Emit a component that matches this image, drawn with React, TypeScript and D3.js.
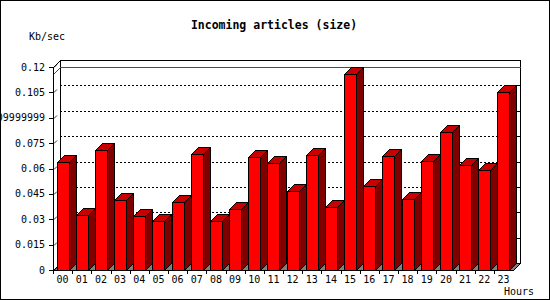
import React from 'react';
import * as d3 from 'd3';

const hours = ['00', '01', '02', '03', '04', '05', '06', '07', '08', '09', '10', '11',
  '12', '13', '14', '15', '16', '17', '18', '19', '20', '21', '22', '23'];
const kbPerSec = [0.0637, 0.0323, 0.0709, 0.0412, 0.0317, 0.029, 0.04, 0.0686, 0.029, 0.0359,
  0.0666, 0.0631, 0.0465, 0.0678, 0.0371, 0.1159, 0.0495, 0.0674, 0.0418, 0.0643, 0.0815,
  0.062, 0.059, 0.105];
const yTicks = [0, 0.015, 0.03, 0.045, 0.06, 0.075, 0.09, 0.105, 0.12];
const yTickLabels = ['0', '0.015', '0.03', '0.045', '0.06', '0.075', '0.09999999', '0.105', '0.12'];

const W = 550;
const H = 300;
const depth = 7; // 3d offset (right / up)
const mono = '"DejaVu Sans Mono", monospace';

const App: React.FC = () => {
  const left = 53;
  const right = 513;
  const bottom = 270;
  const top = 67;

  const x = d3.scaleBand<string>().domain(hours).range([left, right]);
  const y = d3.scaleLinear().domain([0, 0.12]).range([bottom, top]);
  const bw = x.bandwidth() * 0.63;
  const maxV = d3.max(kbPerSec) ?? 0;

  const pts = (a: [number, number][]) => a.map((p) => p.join(',')).join(' ');

  return (
    <svg width={W} height={H} style={{ position: 'absolute', left: 0, top: 0, background: '#fff' }}
      shapeRendering="crispEdges">
      <rect x={0.5} y={0.5} width={W - 1} height={H - 1} fill="#fff" stroke="#000" />

      {/* title */}
      <text x={274} y={29} textAnchor="middle" fontFamily={mono} fontWeight="bold" fontSize={11.5}>
        Incoming articles (size)
      </text>
      <text x={29} y={40} fontFamily={mono} fontSize={10}>Kb/sec</text>

      {/* back wall */}
      <rect x={left + depth + 0.5} y={top - depth + 0.5} width={right - left} height={bottom - top}
        fill="#fff" stroke="#000" />
      {yTicks.filter((t) => t > 0 && t < 0.12).map((t) => (
        <g key={'g' + t}>
          <line x1={left + depth} x2={right + depth} y1={Math.round(y(t) - depth) + 0.5}
            y2={Math.round(y(t) - depth) + 0.5} stroke="#000" strokeDasharray="2,2" />
          <line x1={right + depth - 3} x2={right + depth} y1={Math.round(y(t) - depth) + 0.5}
            y2={Math.round(y(t) - depth) + 0.5} stroke="#000" />
        </g>
      ))}

      {/* side wall */}
      <polygon points={pts([[left + 0.5, top + 0.5], [left + depth + 0.5, top - depth + 0.5],
        [left + depth + 0.5, bottom - depth + 0.5], [left + 0.5, bottom + 0.5]])}
        fill="#fff" stroke="#000" />

      {/* floor */}
      <polygon points={pts([[left + 0.5, bottom + 0.5], [right + 0.5, bottom + 0.5],
        [right + depth + 0.5, bottom - depth + 0.5], [left + depth + 0.5, bottom - depth + 0.5]])}
        fill="#808080" stroke="#000" />

      {/* max line */}
      <polyline points={pts([[left + 0.5, Math.round(y(maxV)) + 0.5],
        [left + depth + 0.5, Math.round(y(maxV) - depth) + 0.5],
        [right + depth + 0.5, Math.round(y(maxV) - depth) + 0.5]])}
        fill="none" stroke="#ff0000" />

      {/* bars */}
      {kbPerSec.map((v, i) => {
        const x0 = Math.round((x(hours[i]) ?? 0) + (x.bandwidth() - bw) / 2) + 0.5;
        const x1 = x0 + Math.round(bw);
        const yt = Math.round(y(v)) + 0.5;
        const yb = bottom + 0.5;
        return (
          <g key={hours[i]} stroke="#000">
            <polygon points={pts([[x0, yt], [x0 + depth, yt - depth], [x1 + depth, yt - depth], [x1, yt]])}
              fill="#c80000" />
            <polygon points={pts([[x1, yt], [x1 + depth, yt - depth], [x1 + depth, yb - depth], [x1, yb]])}
              fill="#800000" />
            <rect x={x0} y={yt} width={x1 - x0} height={yb - yt} fill="#ff0000" />
          </g>
        );
      })}

      {/* y axis */}
      <line x1={left + 0.5} x2={left + 0.5} y1={top} y2={bottom + 1} stroke="#000" />
      {yTicks.map((t, i) => (
        <g key={'y' + t}>
          <line x1={left - 4} x2={left} y1={Math.round(y(t)) + 0.5} y2={Math.round(y(t)) + 0.5} stroke="#000" />
          <line x1={left + 1} x2={left + 4} y1={Math.round(y(t)) + 0.5} y2={Math.round(y(t)) - 2.5}
            stroke="#000" shapeRendering="auto" strokeWidth={0.8} />
          <text x={45} y={y(t) + 3.5} textAnchor="end" fontFamily={mono} fontSize={10}>{yTickLabels[i]}</text>
        </g>
      ))}

      {/* x axis */}
      <line x1={left} x2={right + 1} y1={bottom + 0.5} y2={bottom + 0.5} stroke="#000" />
      {hours.map((h) => (
        <g key={'x' + h}>
          <line x1={Math.round(x(h) ?? 0) + 0.5} x2={Math.round(x(h) ?? 0) + 0.5} y1={bottom} y2={bottom + 4}
            stroke="#000" />
          <text x={(x(h) ?? 0) + x.bandwidth() / 2} y={283} textAnchor="middle" fontFamily={mono}
            fontSize={10}>{h}</text>
        </g>
      ))}
      <text x={534} y={295} textAnchor="end" fontFamily={mono} fontSize={10}>Hours</text>
    </svg>
  );
};

export default App;
